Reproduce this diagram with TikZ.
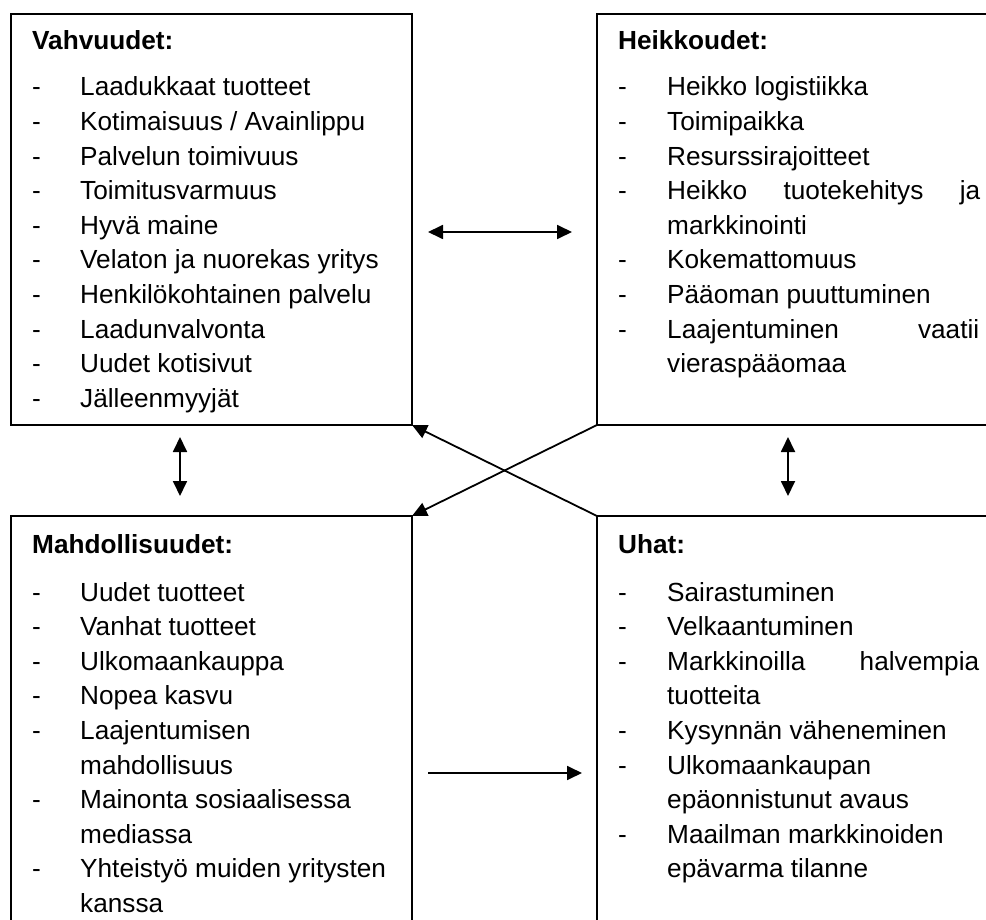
\documentclass[tikz,border=0pt]{standalone}
\usepackage{fontspec}
\setmainfont{Liberation Sans}
\usetikzlibrary{arrows.meta}
\newcommand\lsp{34.6}
\begin{document}
\begin{tikzpicture}[x=1pt,y=-1pt,
  box/.style={draw, line width=1.8pt, outer sep=0pt, inner sep=0pt, anchor=north west},
  txt/.style={anchor=base west, inner sep=0pt, font=\fontsize{26.2}{34}\selectfont},
  head/.style={txt, font=\fontsize{26.2}{34}\selectfont\bfseries},
  conn/.style={line width=1.8pt, -{Triangle[length=15pt,width=14pt]}},
  dconn/.style={line width=1.8pt, {Triangle[length=15pt,width=14pt]}-{Triangle[length=15pt,width=14pt]}}]
\useasboundingbox (0,0) rectangle (986,920);
\clip (0,0) rectangle (986,920);
% boxes
\node[box, minimum width=401pt, minimum height=411pt] (S) at (11,14) {};
\node[box, minimum width=420pt, minimum height=411pt] (W) at (597,14) {};
\node[box, minimum width=401pt, minimum height=430pt] (O) at (11,516) {};
\node[box, minimum width=420pt, minimum height=430pt] (T) at (597,516) {};
% headings
\node[head] (Sh) at (32,50) {Vahvuudet:};
\node[head] (Wh) at (618,50) {Heikkoudet:};
\node[head] (Oh) at (32,553) {Mahdollisuudet:};
\node[head] (Th) at (618,553) {Uhat:};
% strengths
\foreach \d/\t [count=\i] in {1/{Laadukkaat tuotteet}, 1/{Kotimaisuus / Avainlippu},
  1/{Palvelun toimivuus}, 1/{Toimitusvarmuus}, 1/{Hyvä maine},
  1/{Velaton ja nuorekas yritys}, 1/{Henkilökohtainen palvelu},
  1/{Laadunvalvonta}, 1/{Uudet kotisivut}, 1/{Jälleenmyyjät}} {
  \node[txt] (S\i) at (80,{96+\lsp*(\i-1)}) {\t};
  \ifnum\d=1 \node[txt] (Sd\i) at (32,{96+\lsp*(\i-1)}) {-};\fi
}
% weaknesses
\foreach \d/\t [count=\i] in {1/{Heikko logistiikka}, 1/{Toimipaikka},
  1/{Resurssirajoitteet}, 1/{\makebox[313pt][s]{Heikko tuotekehitys ja}},
  0/{markkinointi}, 1/{Kokemattomuus}, 1/{Pääoman puuttuminen},
  1/{\makebox[312pt][s]{Laajentuminen vaatii}}, 0/{vieraspääomaa}} {
  \node[txt] (W\i) at (667,{96+\lsp*(\i-1)}) {\t};
  \ifnum\d=1 \node[txt] (Wd\i) at (618,{96+\lsp*(\i-1)}) {-};\fi
}
% opportunities
\foreach \d/\t [count=\i] in {1/{Uudet tuotteet}, 1/{Vanhat tuotteet},
  1/{Ulkomaankauppa}, 1/{Nopea kasvu}, 1/{Laajentumisen},
  0/{mahdollisuus}, 1/{Mainonta sosiaalisessa}, 0/{mediassa},
  1/{Yhteistyö muiden yritysten}, 0/{kanssa}} {
  \node[txt] (O\i) at (80,{601+\lsp*(\i-1)}) {\t};
  \ifnum\d=1 \node[txt] (Od\i) at (32,{601+\lsp*(\i-1)}) {-};\fi
}
% threats
\foreach \d/\t [count=\i] in {1/{Sairastuminen}, 1/{Velkaantuminen},
  1/{\makebox[312pt][s]{Markkinoilla halvempia}}, 0/{tuotteita},
  1/{Kysynnän väheneminen}, 1/{Ulkomaankaupan}, 0/{epäonnistunut avaus},
  1/{Maailman markkinoiden}, 0/{epävarma tilanne}} {
  \node[txt] (T\i) at (667,{601+\lsp*(\i-1)}) {\t};
  \ifnum\d=1 \node[txt] (Td\i) at (618,{601+\lsp*(\i-1)}) {-};\fi
}
% connectors
\coordinate (h1) at (428,232);
\coordinate (h2) at (572,232);
\draw[dconn] (h1) -- (h2);
\coordinate (v1a) at (180,437);
\coordinate (v1b) at (180,496);
\draw[dconn] (v1a) -- (v1b);
\coordinate (v2a) at (788,437);
\coordinate (v2b) at (788,496);
\draw[dconn] (v2a) -- (v2b);
\coordinate (b1) at (428,773);
\coordinate (b2) at (582,773);
\draw[conn] (b1) -- (b2);
\draw[conn] (T.north west) -- (S.south east);
\draw[conn] (W.south west) -- (O.north east);
\end{tikzpicture}
\end{document}
